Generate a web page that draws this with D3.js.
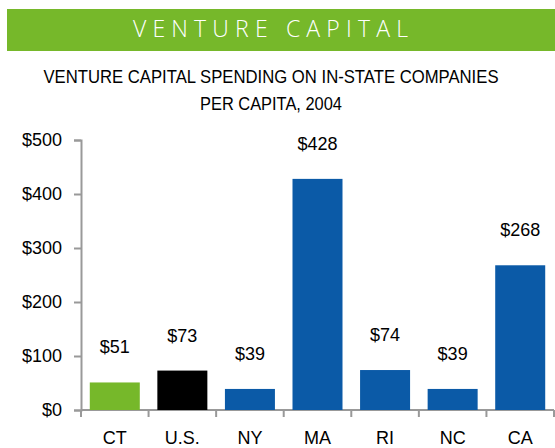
<!DOCTYPE html>
<html><head><meta charset="utf-8">
<script src="https://cdn.jsdelivr.net/npm/d3@7"></script>
<style>
html,body{margin:0;padding:0;background:#fff;}
svg{display:block;}
text{font-family:"Liberation Sans",Arial,sans-serif;}
</style></head>
<body>
<svg id="chart" width="555" height="448"></svg>
<script>
const categories = ["CT", "U.S.", "NY", "MA", "RI", "NC", "CA"];
const values = [51, 73, 39, 428, 74, 39, 268];
const barColors = ["#76b82a", "#000000", "#0b5aa7", "#0b5aa7", "#0b5aa7", "#0b5aa7", "#0b5aa7"];
const yTicks = [0, 100, 200, 300, 400, 500];
const headerText = "VENTURE CAPITAL";
const titleLines = ["VENTURE CAPITAL SPENDING ON IN-STATE COMPANIES", "PER CAPITA, 2004"];
const titleWidths = [455, 142];

const svg = d3.select("#chart");
const W = 555, H = 448;

// header band
svg.append("rect").attr("x", 7).attr("y", 9).attr("width", W - 7).attr("height", 42).attr("fill", "#76b82a");
svg.append("text").attr("x", 133).attr("y", 37).attr("text-anchor", "start")
  .attr("textLength", 275).attr("lengthAdjust", "spacing")
  .attr("fill", "#fff").style("font-family", "'Open Sans','Liberation Sans',sans-serif").style("font-weight", 300)
  .style("font-size", "23px").text(headerText);

// title
svg.selectAll("text.title").data(titleLines).enter().append("text").attr("class", "title")
  .attr("x", (d, i) => 271 - titleWidths[i] / 2).attr("y", (d, i) => 83 + i * 27)
  .attr("textLength", (d, i) => titleWidths[i]).attr("lengthAdjust", "spacingAndGlyphs")
  .attr("fill", "#000").style("font-size", "17.5px").text(d => d);

const x = d3.scaleBand().domain(categories).range([81, 554]).paddingInner(0.26).paddingOuter(0.13);
const y = d3.scaleLinear().domain([0, 500]).range([410, 140]);

// y axis
const yAxis = d3.axisLeft(y).tickValues(yTicks).tickFormat(d => "$" + d).tickSize(7).tickPadding(12);
const gy = svg.append("g").attr("transform", "translate(81,0)").call(yAxis);
gy.select(".domain").attr("stroke", "#999").attr("stroke-width", 2);
gy.selectAll(".tick line").attr("stroke", "#999").attr("stroke-width", 2);
gy.selectAll(".tick text").attr("fill", "#000").style("font-size", "18px");

// x axis line + boundary ticks
svg.append("line").attr("x1", 81).attr("x2", 554).attr("y1", y(0)).attr("y2", y(0))
  .attr("stroke", "#999").attr("stroke-width", 2);
const bounds = categories.map((c, i) => x(c) - x.step() * x.paddingInner() / 2).concat([554]);
bounds[0] = 81;
svg.selectAll("line.xt").data(bounds).enter().append("line").attr("class", "xt")
  .attr("x1", d => d).attr("x2", d => d).attr("y1", y(0)).attr("y2", y(0) + 7)
  .attr("stroke", "#999").attr("stroke-width", 2);

// bars
svg.selectAll("rect.bar").data(values).enter().append("rect").attr("class", "bar")
  .attr("x", (d, i) => x(categories[i])).attr("width", x.bandwidth())
  .attr("y", d => y(d)).attr("height", d => y(0) - y(d))
  .attr("fill", (d, i) => barColors[i]);

// value labels
svg.selectAll("text.val").data(values).enter().append("text").attr("class", "val")
  .attr("x", (d, i) => x(categories[i]) + x.bandwidth() / 2).attr("y", d => y(d) - 29)
  .attr("text-anchor", "middle").attr("fill", "#000").style("font-size", "18px").text(d => "$" + d);

// category labels
svg.selectAll("text.cat").data(categories).enter().append("text").attr("class", "cat")
  .attr("x", d => x(d) + x.bandwidth() / 2).attr("y", 444)
  .attr("text-anchor", "middle").attr("fill", "#000").style("font-size", "18px").text(d => d);
</script>
</body></html>
